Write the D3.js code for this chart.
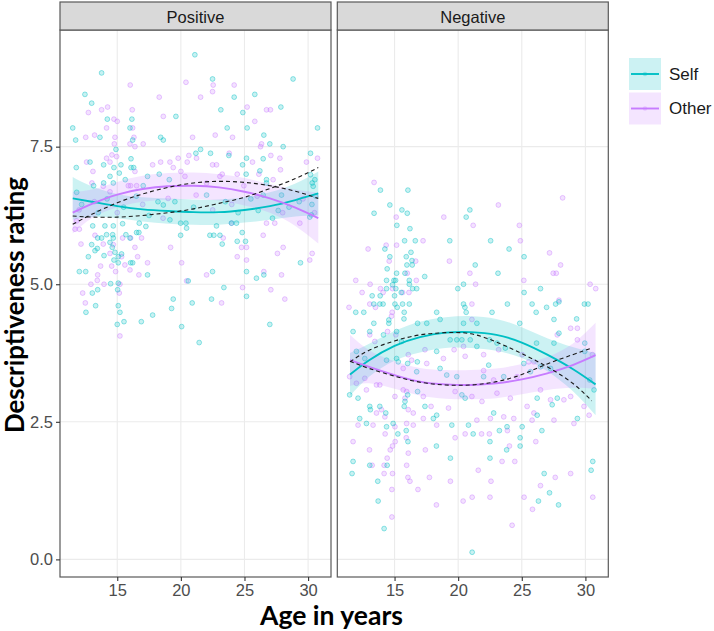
<!DOCTYPE html>
<html><head><meta charset="utf-8">
<script src="https://cdn.jsdelivr.net/npm/d3@7"></script>
<style>body{margin:0;background:#fff}svg{display:block}</style>
</head><body>
<svg id="c" width="714" height="631"></svg>
<script>
// ---------- data ----------
const facets = ["Positive", "Negative"];
const groups = ["Self", "Other"];
const xTicks = [15, 20, 25, 30];
const yTicks = [0, 2.5, 5, 7.5];
const yTickLabels = ["0.0", "2.5", "5.0", "7.5"];

const posSelf = [[21.1,9.17],[13.77,8.84],[22.49,8.73],[28.82,8.73],[12.46,8.45],[12.99,8.29],[25.81,8.45],[24.19,8.40],[23.14,8.17],[24.87,8.12],[27.86,8.22],[14.22,8.00],[16.15,8.00],[19.61,8.05],[11.5,7.84],[16.0,7.84],[23.64,7.84],[25.21,7.84],[30.74,7.84],[11.73,7.62],[13.64,7.67],[18.41,7.67],[18.62,7.62],[16.21,7.62],[26.52,7.71],[14.9,7.45],[21.55,7.45],[26.99,7.55],[28.04,7.50],[30.19,7.38],[22.33,7.38],[23.77,7.34],[21.18,7.38],[11.78,7.12],[12.86,7.22],[13.93,7.17],[15.29,7.17],[14.74,7.12],[16.08,7.28],[16.08,7.12],[16.29,7.12],[15.16,7.02],[24.85,7.17],[25.16,7.29],[25.13,7.00],[26.21,7.06],[14.43,6.96],[15.63,6.90],[17.38,6.96],[18.3,7.00],[19.09,6.90],[13.93,6.84],[14.69,6.84],[13.14,6.79],[17.04,6.79],[26.73,6.90],[26.73,6.84],[30.19,6.99],[30.32,6.84],[30.53,6.90],[30.4,6.78],[26.47,7.28],
[13.07,6.06],[14.03,6.06],[14.69,6.06],[15.42,6.10],[16.73,6.11],[17.25,6.05],[18.62,6.44],[19.53,6.50],[19.14,6.17],[19.98,6.11],[20.4,6.11],[20.45,6.02],[22.8,6.06],[23.98,6.11],[24.37,6.11],[22.02,6.62],[26.47,6.62],[27.91,6.62],[27.65,6.34],[26.08,6.34],[30.13,6.22],[30.26,6.26],[14.16,5.90],[14.64,5.90],[16.52,5.94],[16.7,5.94],[15.68,5.90],[16.0,5.84],[14.69,5.84],[13.77,5.84],[13.46,5.84],[12.99,5.72],[13.25,5.61],[13.43,5.65],[14.43,5.76],[14.61,5.67],[13.96,5.52],[14.74,5.44],[15.08,5.50],[15.34,5.55],[14.82,5.58],[12.73,5.50],[16.05,5.39],[16.21,5.39],[15.08,5.39],[12.02,5.23],[12.52,5.23],[17.38,5.17],[14.48,5.01],[15.08,5.02],[13.46,4.90],[13.04,4.84],[15.03,4.90],[19.98,5.89],[22.28,5.89],[22.59,5.89],[23.07,5.89],[23.25,5.73],[24.82,5.94],[24.43,5.78],[25.08,5.78],[25.16,5.23],[25.94,5.11],[26.52,5.17],[22.49,5.23],[20.58,5.06],[23.38,4.94],[25.16,4.78],[19.4,4.73],[19.27,4.56],[20.89,4.66],[22.41,4.73],[13.3,4.61],[12.54,4.49],[15.08,4.61],[15.21,4.49],[15.0,4.27],[15.53,4.32],[16.89,4.32],[17.78,4.44],[20.06,4.23],[21.44,3.94],[26.99,4.27],[29.4,5.39],[11.81,6.67],
[12.2,6.45],[13.5,6.3],[14.2,6.55],[15.5,6.4],[16.5,6.6],[17.5,6.25],[18.2,6.5],[21.0,6.4],[23.5,6.5],[24.5,6.3],[25.5,6.55],[28.5,6.4],[29.3,6.5],[30.6,6.6],[30.3,6.45],[27.2,6.2]];

const posOther = [[16.02,8.62],[20.4,8.67],[22.54,8.62],[22.49,8.50],[24.19,8.62],[18.3,8.40],[21.55,8.40],[12.73,8.12],[13.77,8.17],[14.24,8.22],[16.18,8.17],[26.73,8.17],[27.04,8.17],[25.21,8.22],[25.81,7.96],[18.62,8.05],[14.74,8.00],[15.0,7.96],[14.16,7.84],[16.21,7.84],[12.52,7.67],[13.22,7.71],[14.82,7.67],[16.31,7.67],[22.7,7.71],[24.06,7.67],[20.92,7.67],[14.77,7.55],[16.0,7.55],[16.39,7.50],[17.04,7.55],[26.34,7.55],[26.26,7.50],[14.16,7.29],[14.58,7.35],[14.95,7.32],[12.59,7.22],[14.43,7.22],[17.78,7.17],[18.41,7.22],[19.14,7.22],[19.79,7.29],[20.63,7.34],[21.23,7.29],[19.4,7.12],[20.5,7.22],[22.49,7.17],[22.8,7.17],[23.8,7.38],[25.63,7.22],[27.07,7.34],[27.78,7.29],[30.74,7.29],[29.87,7.22],[13.09,7.05],[16.39,7.05],[20.0,7.05],[23.25,7.00],[24.43,7.00],[26.13,7.00],[27.83,7.08],[13.01,6.84],[13.9,6.78],[15.87,6.79],[16.05,6.79],[16.52,6.79],[20.32,6.96],[22.02,6.84],[23.07,6.96],[24.95,6.79],[27.25,6.90],
[12.15,5.73],[13.25,5.89],[13.9,5.73],[14.43,5.56],[14.69,5.72],[15.42,5.84],[16.05,5.84],[16.91,5.84],[16.39,5.67],[15.34,5.50],[15.6,5.35],[16.6,5.50],[14.56,5.33],[13.69,5.33],[14.87,5.23],[16.0,5.26],[16.7,5.17],[17.38,5.39],[13.46,5.17],[13.43,5.07],[13.96,5.00],[12.93,5.00],[15.21,5.00],[12.28,4.84],[15.16,4.84],[12.49,4.66],[15.21,4.06],[19.19,5.67],[20.06,5.39],[20.45,5.06],[22.02,5.17],[23.33,5.84],[23.98,6.11],[24.77,5.67],[25.16,5.67],[24.43,5.50],[25.16,5.44],[24.85,4.94],[23.2,4.66],[26.47,5.89],[26.73,6.11],[27.38,6.11],[28.04,5.67],[27.59,5.56],[26.52,5.23],[27.91,5.17],[27.07,4.90],[28.17,4.73],[29.35,6.11],[30.13,5.44],[30.32,5.56],[12.02,6.00],[11.68,6.00],[14.43,6.68],[19.0,6.56],[21.2,6.62],
[12.0,6.35],[13.2,6.5],[15.0,6.3],[17.0,6.45],[18.6,6.2],[22.5,6.35],[24.0,6.45],[26.0,6.6],[28.0,6.3],[29.6,6.55],[30.5,6.3],[11.8,6.15]];

const negSelf = [[13.89,6.71],[16.05,6.71],[14.63,6.44],[13.39,6.29],[15.58,6.35],[16.0,6.29],[15.18,6.07],[16.21,6.01],[15.79,5.79],[16.63,5.79],[14.24,5.64],[14.63,5.50],[15.92,5.50],[16.29,5.58],[15.97,5.35],[16.39,5.35],[16.37,5.43],[14.42,5.28],[15.16,5.20],[15.82,5.20],[17.37,5.14],[14.37,5.07],[14.95,5.07],[15.08,5.07],[16.16,5.07],[14.84,4.99],[16.16,5.00],[14.37,4.92],[15.1,4.92],[16.42,4.92],[16.74,4.92],[15.0,4.79],[13.24,4.79],[13.87,4.79],[15.53,4.85],[20.92,6.35],[20.63,6.22],[19.34,5.79],[22.55,5.79],[24.0,5.64],[21.34,5.35],[23.13,5.20],[20.42,5.00],[19.97,4.92],[25.18,5.50],[25.18,4.85],[26.47,4.92],
[11.95,4.49],[12.58,4.49],[13.37,4.64],[13.84,4.64],[14.1,4.64],[15.03,4.64],[15.21,4.58],[15.63,4.64],[15.76,4.49],[16.16,4.64],[13.37,4.29],[14.55,4.35],[14.55,4.29],[15.74,4.37],[16.81,4.29],[17.53,4.29],[18.31,4.49],[18.58,4.36],[20.42,4.64],[20.53,4.58],[20.63,4.49],[20.42,4.29],[21.47,4.29],[22.66,4.49],[23.87,4.64],[24.84,4.29],[25.81,4.64],[26.13,4.49],[26.95,4.58],[27.66,4.64],[27.92,4.68],[27.53,4.36],[29.92,4.64],[30.21,4.64],[29.31,4.37],[11.74,4.14],[13.05,4.14],[14.13,4.08],[15.16,4.14],[15.55,3.96],[12.0,3.78],[12.66,3.65],[14.37,3.62],[15.16,3.65],[15.29,3.59],[16.79,3.59],[16.03,3.56],[18.31,3.78],[19.37,3.99],[19.89,3.99],[20.29,3.99],[20.95,3.99],[21.47,3.87],[22.47,3.99],[23.05,3.93],[23.71,3.84],[26.16,3.93],[27.53,3.93],[27.92,4.11],[29.95,3.93],[29.95,3.78],[11.47,2.99],[12.13,2.93],[13.05,2.78],[13.1,2.72],[13.84,2.78],[14.31,2.66],[15.82,2.87],[15.76,2.78],[16.03,2.99],[16.81,3.05],[17.39,2.78],[16.74,3.41],[18.58,3.47],[19.1,3.35],[19.89,3.32],[22.0,3.32],[23.58,3.32],[22.4,3.53],[25.16,3.56],[25.68,3.41],[26.47,3.50],[27.26,3.47],[12.26,2.56],[12.79,2.47],[14.37,2.41],[14.89,2.47],[18.05,2.56],[18.31,2.62],[19.5,2.44],[20.81,2.44],[22.79,2.66],[23.84,2.41],[25.03,2.41],[26.21,2.62],[27.79,2.93],[29.37,2.56],[30.68,3.08],[30.34,3.26],[26.21,2.93],[27.39,2.81],[20.29,2.99],[20.55,2.93],
[15.26,2.28],[15.92,2.34],[16.05,2.14],[21.18,2.28],[22.5,2.14],[23.24,2.34],[23.81,1.99],[24.87,2.21],[24.87,2.06],[26.58,2.34],[18.29,2.06],[19.39,1.84],[22.5,1.84],[11.74,1.78],[13.05,1.71],[14.42,1.71],[11.66,1.56],[13.68,1.42],[13.71,1.06],[14.18,0.56],[21.1,0.13],[26.31,1.06],[26.76,1.56],[27.18,1.21],[27.89,0.99],[30.58,1.78],[30.45,1.62]];

const negOther = [[13.39,6.85],[15.13,6.22],[15.16,5.71],[14.34,5.71],[12.92,5.64],[14.58,5.42],[16.66,5.42],[17.24,5.79],[18.87,6.22],[19.31,5.42],[21.18,6.07],[23.16,6.44],[24.81,6.07],[24.89,5.79],[27.18,5.57],[28.21,6.57],[28.05,5.35],[27.47,5.20],[27.71,5.20],[25.16,5.07],[30.37,5.00],[30.81,4.92],[20.92,5.20],[21.37,5.00],[16.71,5.07],[16.0,5.20],[11.95,5.07],[13.08,5.00],[13.89,4.92],[14.84,4.92],[12.45,4.85],[14.1,4.85],[15.63,4.85],[16.13,4.85],[27.92,4.71],
[11.42,4.58],[13.05,4.64],[13.5,4.58],[14.81,4.49],[14.76,4.42],[14.45,4.14],[13.05,4.08],[13.45,3.96],[15.1,4.08],[16.08,3.72],[16.34,3.62],[15.68,3.47],[17.39,3.81],[17.53,3.56],[18.84,3.65],[19.68,3.81],[21.08,4.64],[21.08,4.36],[20.42,3.87],[20.55,3.69],[22.0,3.72],[23.18,3.81],[22.0,3.43],[25.03,3.72],[25.55,3.59],[25.95,3.59],[27.79,4.08],[28.84,4.20],[29.37,4.20],[29.37,3.99],[30.55,3.72],[11.47,3.32],[12.0,3.20],[12.79,3.08],[12.66,3.29],[13.58,3.17],[13.84,3.17],[15.03,2.96],[15.68,3.08],[15.95,3.05],[15.82,2.93],[16.08,2.72],[16.47,2.66],[17.26,2.96],[17.87,2.78],[19.24,2.75],[19.76,3.05],[21.08,2.96],[21.87,2.87],[23.05,3.02],[24.1,2.93],[25.42,2.78],[25.95,2.66],[26.47,3.08],[27.26,2.90],[28.31,2.90],[28.84,2.96],[29.89,2.78],[13.58,2.66],[13.97,2.72],[14.24,2.59],[12.13,2.44],[13.31,2.44],[15.03,2.41],[15.95,2.47],[16.47,2.44],[17.26,2.56],[18.31,2.44],[21.47,2.53],[22.53,2.56],[23.58,2.59],[24.37,2.56],[25.81,2.53],[27.53,2.53],[29.1,2.47],[30.29,2.62],[22.79,3.26],[24.63,3.32],
[14.26,2.28],[15.92,2.21],[15.05,2.14],[14.84,2.06],[14.66,1.99],[13.03,1.99],[11.74,2.14],[17.42,1.99],[19.76,2.21],[20.55,2.28],[21.84,2.28],[22.45,2.28],[23.87,2.34],[24.03,2.06],[23.45,1.78],[24.45,1.78],[26.1,2.14],[14.42,1.84],[14.18,1.71],[13.24,1.71],[15.95,1.71],[16.08,1.93],[14.18,1.56],[14.84,1.56],[16.05,1.49],[16.21,1.42],[17.74,1.49],[19.39,1.42],[21.58,1.62],[22.58,1.42],[14.79,1.27],[16.84,1.27],[18.29,0.99],[20.39,1.06],[21.1,1.13],[22.5,1.13],[25.18,1.13],[25.84,0.91],[24.24,0.62],[14.79,0.77],[26.47,1.34],[27.63,1.49],[28.84,1.56],[30.58,1.13]];

// fitted curves (ages at which fitted values were read)
const fitAges = [11.5, 13, 15, 17, 19, 21, 23, 25, 27, 29, 30.8];
const posSelfFit   = [6.56, 6.50, 6.42, 6.36, 6.33, 6.31, 6.31, 6.35, 6.42, 6.53, 6.65];
const posSelfLo    = [6.17, 6.22, 6.20, 6.14, 6.10, 6.08, 6.08, 6.12, 6.17, 6.23, 6.25];
const posSelfHi    = [6.95, 6.78, 6.64, 6.58, 6.56, 6.54, 6.54, 6.58, 6.67, 6.83, 7.05];
const posOtherFit  = [6.30, 6.46, 6.63, 6.73, 6.78, 6.79, 6.76, 6.68, 6.56, 6.39, 6.20];
const posOtherLo   = [5.92, 6.20, 6.40, 6.50, 6.54, 6.55, 6.52, 6.43, 6.30, 6.06, 5.74];
const posOtherHi   = [6.68, 6.72, 6.86, 6.97, 7.02, 7.03, 7.00, 6.93, 6.82, 6.72, 6.66];
const posDashA     = [6.09, 6.27, 6.48, 6.64, 6.76, 6.84, 6.87, 6.85, 6.79, 6.69, 6.56];
const posDashB     = [6.24, 6.22, 6.22, 6.25, 6.30, 6.37, 6.47, 6.58, 6.74, 6.92, 7.12];
const negSelfFit   = [3.36, 3.62, 3.88, 4.04, 4.12, 4.13, 4.08, 3.94, 3.72, 3.46, 3.18];
const negSelfLo    = [2.97, 3.32, 3.61, 3.76, 3.84, 3.84, 3.79, 3.66, 3.42, 3.06, 2.62];
const negSelfHi    = [3.75, 3.92, 4.15, 4.32, 4.40, 4.42, 4.37, 4.22, 4.02, 3.86, 3.75];
const negOtherFit  = [3.62, 3.50, 3.35, 3.23, 3.18, 3.17, 3.20, 3.27, 3.38, 3.53, 3.71];
const negOtherLo   = [3.15, 3.20, 3.10, 2.98, 2.92, 2.91, 2.93, 3.00, 3.08, 3.12, 3.10];
const negOtherHi   = [4.08, 3.80, 3.60, 3.48, 3.44, 3.44, 3.47, 3.55, 3.68, 3.92, 4.30];
const negDashAges  = [11.5, 13, 15, 17, 19, 21, 23, 25, 27, 29, 30.5];
const negDashA     = [3.59, 3.80, 3.97, 4.08, 4.12, 4.10, 3.95, 3.74, 3.50, 3.20, 2.88];
const negDashB     = [3.60, 3.47, 3.33, 3.22, 3.17, 3.17, 3.23, 3.36, 3.55, 3.72, 3.84];

// ---------- layout ----------
const colors = {Self: "#00BFC4", Other: "#C77CFF"};
const panelTop = 30, panelBottom = 577, stripTop = 2, panelW = 271;
const panelX = [60, 337.3];
const svg = d3.select("#c");

const y = d3.scaleLinear().domain([-0.32, 9.62]).range([panelBottom, panelTop]);

const panels = [
  {name: "Positive", self: posSelf, other: posOther,
   fits: [[fitAges, posSelfFit, posSelfLo, posSelfHi, "Self"], [fitAges, posOtherFit, posOtherLo, posOtherHi, "Other"]],
   dashes: [[fitAges, posDashA], [fitAges, posDashB]]},
  {name: "Negative", self: negSelf, other: negOther,
   fits: [[fitAges, negSelfFit, negSelfLo, negSelfHi, "Self"], [fitAges, negOtherFit, negOtherLo, negOtherHi, "Other"]],
   dashes: [[negDashAges, negDashA], [negDashAges, negDashB]]}
];

panels.forEach((p, i) => {
  const x0 = panelX[i];
  const x = d3.scaleLinear().domain([10.5, 31.8]).range([x0, x0 + panelW]);
  const g = svg.append("g");

  g.append("rect").attr("x", x0).attr("y", panelTop).attr("width", panelW).attr("height", panelBottom - panelTop).attr("fill", "#fff");
  g.selectAll(".vg").data(xTicks).enter().append("line")
    .attr("x1", d => x(d)).attr("x2", d => x(d)).attr("y1", panelTop).attr("y2", panelBottom)
    .attr("stroke", "#ebebeb").attr("stroke-width", 1.1);
  g.selectAll(".hg").data(yTicks).enter().append("line")
    .attr("x1", x0).attr("x2", x0 + panelW).attr("y1", d => y(d)).attr("y2", d => y(d))
    .attr("stroke", "#ebebeb").attr("stroke-width", 1.1);

  [["Other", p.other], ["Self", p.self]].forEach(([grp, pts]) => {
    g.append("g").selectAll("circle").data(pts).enter().append("circle")
      .attr("cx", d => x(d[0])).attr("cy", d => y(d[1])).attr("r", 2.4)
      .attr("fill", colors[grp]).attr("fill-opacity", 0.22)
      .attr("stroke", colors[grp]).attr("stroke-opacity", 0.42).attr("stroke-width", 1);
  });

  p.fits.forEach(([ages, fit, lo, hi, grp]) => {
    const rows = ages.map((a, k) => ({a, f: fit[k], l: lo[k], h: hi[k]}));
    const area = d3.area().x(d => x(d.a)).y0(d => y(d.l)).y1(d => y(d.h)).curve(d3.curveNatural);
    g.append("path").attr("d", area(rows)).attr("fill", colors[grp]).attr("fill-opacity", 0.2);
  });
  p.fits.forEach(([ages, fit, lo, hi, grp]) => {
    const rows = ages.map((a, k) => ({a, f: fit[k]}));
    const line = d3.line().x(d => x(d.a)).y(d => y(d.f)).curve(d3.curveNatural);
    g.append("path").attr("d", line(rows)).attr("fill", "none").attr("stroke", colors[grp]).attr("stroke-width", 1.9);
  });
  p.dashes.forEach(([ages, vals]) => {
    const rows = ages.map((a, k) => ({a, f: vals[k]}));
    const line = d3.line().x(d => x(d.a)).y(d => y(d.f)).curve(d3.curveNatural);
    g.append("path").attr("d", line(rows)).attr("fill", "none").attr("stroke", "#1a1a1a")
      .attr("stroke-width", 1.1).attr("stroke-dasharray", "4,3");
  });

  g.append("rect").attr("x", x0).attr("y", panelTop).attr("width", panelW).attr("height", panelBottom - panelTop)
    .attr("fill", "none").attr("stroke", "#595959").attr("stroke-width", 1.2);
  g.append("rect").attr("x", x0).attr("y", stripTop).attr("width", panelW).attr("height", panelTop - stripTop)
    .attr("fill", "#d9d9d9").attr("stroke", "#595959").attr("stroke-width", 1.2);
  g.append("text").attr("x", x0 + panelW / 2).attr("y", (stripTop + panelTop) / 2 + 1)
    .attr("text-anchor", "middle").attr("dominant-baseline", "central")
    .attr("font-family", "Liberation Sans, Arial, sans-serif").attr("font-size", 16.5).attr("fill", "#1a1a1a")
    .text(p.name);

  const xa = g.append("g").attr("transform", `translate(0,${panelBottom})`)
    .call(d3.axisBottom(x).tickValues(xTicks).tickSize(4).tickPadding(3));
  xa.select(".domain").remove();
  xa.selectAll(".tick line").attr("stroke", "#333").attr("stroke-width", 1.1);
  xa.selectAll(".tick text").attr("font-family", "Liberation Sans, Arial, sans-serif").attr("font-size", 16.5).attr("fill", "#4d4d4d");

  if (i === 0) {
    const ya = g.append("g").attr("transform", `translate(${x0},0)`)
      .call(d3.axisLeft(y).tickValues(yTicks).tickFormat((d, k) => yTickLabels[k]).tickSize(4).tickPadding(3));
    ya.select(".domain").remove();
    ya.selectAll(".tick line").attr("stroke", "#333").attr("stroke-width", 1.1);
    ya.selectAll(".tick text").attr("font-family", "Liberation Sans, Arial, sans-serif").attr("font-size", 16.5).attr("fill", "#4d4d4d");
  }
});

function fitText(t, target) {
  const len = t.node().getComputedTextLength();
  const fs = parseFloat(t.attr("font-size"));
  t.attr("font-size", fs * target / len);
}
const xt = svg.append("text").attr("x", 331.5).attr("y", 625).attr("text-anchor", "middle")
  .attr("font-family", "Lato, Open Sans, sans-serif").attr("font-weight", "bold").attr("font-size", 24)
  .attr("fill", "#000").text("Age in years");
fitText(xt, 143);
const yt = svg.append("text").attr("transform", "translate(24,305) rotate(-90)").attr("text-anchor", "middle")
  .attr("font-family", "Lato, Open Sans, sans-serif").attr("font-weight", "bold").attr("font-size", 24)
  .attr("fill", "#000").text("Descriptiveness rating");
fitText(yt, 256);

const lg = svg.append("g");
groups.forEach((grp, k) => {
  const ky = 58 + k * 34.5;
  lg.append("rect").attr("x", 629).attr("y", ky).attr("width", 32).attr("height", 32)
    .attr("fill", colors[grp]).attr("fill-opacity", 0.2);
  lg.append("line").attr("x1", 631).attr("x2", 659).attr("y1", ky + 16).attr("y2", ky + 16)
    .attr("stroke", colors[grp]).attr("stroke-width", 1.9);
  lg.append("circle").attr("cx", 645).attr("cy", ky + 16).attr("r", 2.2)
    .attr("fill", colors[grp]).attr("fill-opacity", 0.3);
  lg.append("text").attr("x", 669).attr("y", ky + 16).attr("dominant-baseline", "central")
    .attr("font-family", "Liberation Sans, Arial, sans-serif").attr("font-size", 17).attr("fill", "#1a1a1a")
    .text(grp);
});
</script>
</body></html>
